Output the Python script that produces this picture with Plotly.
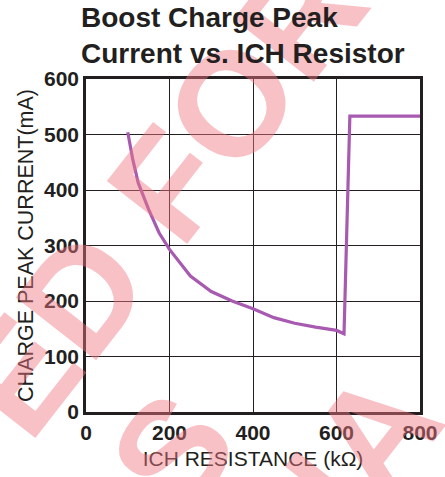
import plotly.graph_objects as go

# ---- data ----
resistance_kohm = [100, 112, 125, 150, 175, 200, 250, 300, 350, 400, 450, 500, 550, 600, 618, 632, 800]
peak_current_ma = [504, 455, 413, 365, 323, 293, 245, 217, 200, 186, 170, 160, 153, 147, 141, 533, 533]

x_ticks = [0, 200, 400, 600, 800]
y_ticks = [0, 100, 200, 300, 400, 500, 600]

title_text = "Boost Charge Peak<br>Current vs. ICH Resistor"
x_title = "ICH RESISTANCE (k\u03a9)"
y_title = "CHARGE PEAK CURRENT(mA)"

# watermark fragments (line text, centre px x, centre px y)
watermark = [("ED FOR", 160, 194), ("S", 172, 452), ("NA", 342, 474)]

W, H = 445, 477
L, R, T, B = 86, 25, 79, 65
pw, ph = W - L - R, H - T - B

def px(xp, yp):
    return (xp - L) / pw, (H - B - yp) / ph

ink = "#231f20"
font_fam = "Liberation Sans, Arial, sans-serif"

fig = go.Figure()
fig.add_trace(go.Scatter(
    x=resistance_kohm, y=peak_current_ma, mode="lines",
    line=dict(color="#a75ab0", width=3.2), showlegend=False,
))

annotations = []
for txt, cx, cy in watermark:
    ax, ay = px(cx, cy)
    annotations.append(dict(
        text=txt, x=ax, y=ay, xref="paper", yref="paper", showarrow=False,
        xanchor="center", yanchor="middle", textangle=-52,
        font=dict(family=font_fam, size=148, color="rgba(240,120,130,0.46)", weight="bold"),
    ))

tx, ty = px(79, 0)
annotations.append(dict(
    text="<b>" + title_text + "</b>", x=tx, y=ty, xref="paper", yref="paper",
    showarrow=False, xanchor="left", yanchor="top", align="left",
    font=dict(family=font_fam, size=28, color=ink),
))

axis_common = dict(
    showgrid=True, gridcolor=ink, gridwidth=1.3,
    showline=True, linecolor=ink, linewidth=2.6, mirror=True,
    ticks="", zeroline=False, automargin=False,
    tickfont=dict(family=font_fam, size=21, color=ink, weight="bold"),
)

fig.update_layout(
    width=W, height=H,
    margin=dict(l=L, r=R, t=T, b=B, autoexpand=False),
    paper_bgcolor="white", plot_bgcolor="white",
    annotations=annotations,
    xaxis=dict(
        range=[0, 800], tickvals=x_ticks, ticktext=[str(v) for v in x_ticks],
        title=dict(text=x_title, font=dict(family=font_fam, size=21, color=ink), standoff=9),
        **axis_common,
    ),
    yaxis=dict(
        range=[0, 600], tickvals=y_ticks, ticktext=[str(v) for v in y_ticks],
        title=dict(text=y_title, font=dict(family=font_fam, size=21.5, color=ink), standoff=5),
        **axis_common,
    ),
)

fig.write_html("out.html", config={"displayModeBar": False},
               post_script="document.body.style.margin='0';")
